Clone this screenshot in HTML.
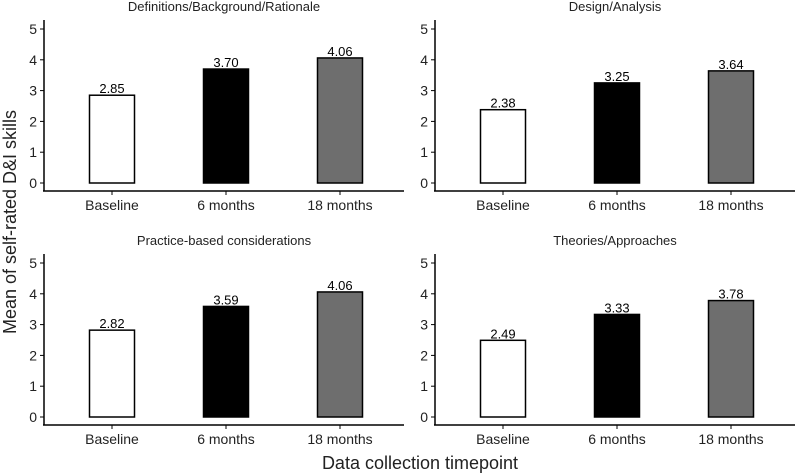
<!DOCTYPE html>
<html><head><meta charset="utf-8"><style>
body{margin:0;background:#fff}
svg{display:block;font-family:"Liberation Sans",sans-serif}
</style></head><body>
<svg id="c" width="800" height="475"></svg>
<script>
const panelTitles=["Definitions/Background/Rationale","Design/Analysis","Practice-based considerations","Theories/Approaches"];
const categories=["Baseline","6 months","18 months"];
const valuesDef=[2.85,3.70,4.06];
const valuesDesign=[2.38,3.25,3.64];
const valuesPractice=[2.82,3.59,4.06];
const valuesTheories=[2.49,3.33,3.78];
const yTicks=[0,1,2,3,4,5];
const series=[valuesDef,valuesDesign,valuesPractice,valuesTheories];
const fills=["#ffffff","#000000","#6e6e6e"];
const NS="http://www.w3.org/2000/svg";
const svg=document.getElementById('c');
function mk(t,a,p){const e=document.createElementNS(NS,t);for(const k in a)e.setAttribute(k,a[k]);(p||svg).appendChild(e);return e;}
const offs=[[0,0],[391,0],[0,234],[391,234]];
const unit=30.8;
offs.forEach(([dx,dy],pi)=>{
  const g=mk('g',{transform:`translate(${dx},${dy})`});
  
  
  const y=v=>183-v*unit;
  const x=i=>112+i*114;
  const t=mk('text',{x:224,y:11,'text-anchor':'middle','font-size':13,fill:'#222'},g);t.textContent=panelTitles[pi];
  
  
  mk('line',{x1:44,y1:20,x2:44,y2:191,stroke:'#000','stroke-width':1.5},g);
  mk('line',{x1:43,y1:191,x2:404,y2:191,stroke:'#000','stroke-width':1.5},g);
  yTicks.forEach(v=>{
    mk('line',{x1:40,y1:y(v),x2:44,y2:y(v),stroke:'#000'},g);
    const l=mk('text',{x:37,y:y(v)+5,'text-anchor':'end','font-size':14,fill:'#222'},g);l.textContent=v;
    
    
  });
  categories.forEach((c,i)=>{
    const v=series[pi][i];
    const b=mk('rect',{x:x(i)-22.5,y:y(v),width:45,height:v*unit,fill:fills[i],stroke:'#000','stroke-width':1.5},g);
    
    
    const vl=mk('text',{x:x(i),y:y(v)-2,'text-anchor':'middle','font-size':13,fill:'#000'},g);vl.textContent=v.toFixed(2);
    
    
    mk('line',{x1:x(i),y1:191,x2:x(i),y2:195,stroke:'#000'},g);
    const cl=mk('text',{x:x(i),y:210,'text-anchor':'middle','font-size':14,fill:'#222'},g);cl.textContent=c;
    
    
  });
});
const xt=mk('text',{x:420,y:469,'text-anchor':'middle','font-size':18,fill:'#222'});xt.textContent="Data collection timepoint";


const yt=mk('text',{x:0,y:0,'text-anchor':'middle','font-size':18,fill:'#222',transform:'translate(16,222) rotate(-90)'});yt.textContent="Mean of self-rated D&I skills";


</script>
</body></html>
